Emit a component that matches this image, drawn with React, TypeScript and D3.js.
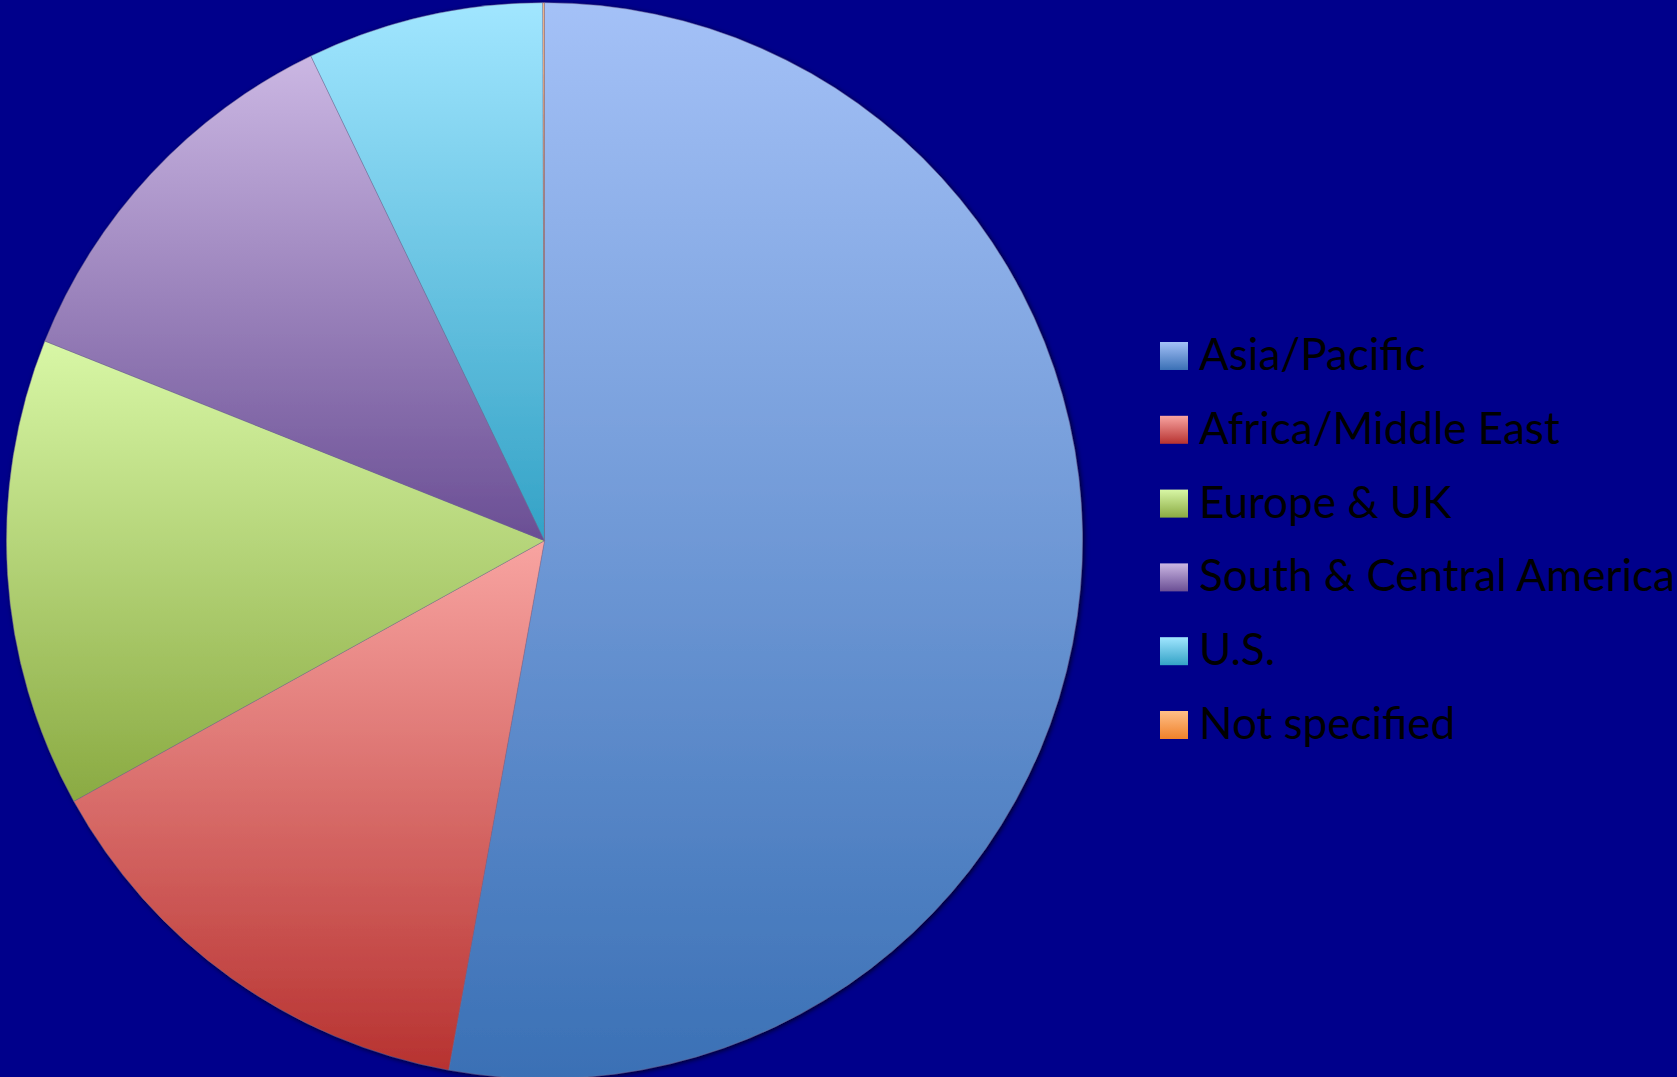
import React from "react";
import * as d3 from "d3";

const categories = ["Asia/Pacific", "Africa/Middle East", "Europe & UK", "South & Central America", "U.S.", "Not specified"];
const values = [52.85, 14.1, 14.1, 11.8, 7.1, 0.05];
const topColors = ["#A4C1F7", "#F8A4A1", "#D8F7A6", "#CBB7E3", "#A1E6FF", "#FFBF88"];
const bottomColors = ["#3A70B5", "#B73230", "#8AAA42", "#6A4E94", "#33A2C6", "#F0822A"];

const W = 1677;
const H = 1077;
const cx = 544.5;
const cy = 540.7;
const R = 538;

export default function App() {
  const pie = d3.pie<number>().sort(null).value((d) => d);
  const arcs = pie(values);
  const arc = d3.arc<d3.PieArcDatum<number>>().innerRadius(0).outerRadius(R);

  const legendX = 1160;
  const legendY0 = 370;
  const legendStep = 73.8;
  const sw = 28;

  return (
    <svg
      width={W}
      height={H}
      style={{ position: "absolute", left: 0, top: 0, display: "block" }}
    >
      <defs>
        {categories.map((c, i) => (
          <linearGradient key={c} id={`g${i}`} x1="0" y1="0" x2="0" y2="1">
            <stop offset="0" stopColor={topColors[i]} />
            <stop offset="1" stopColor={bottomColors[i]} />
          </linearGradient>
        ))}
        <filter id="shadow" x="-10%" y="-10%" width="120%" height="120%">
          <feDropShadow dx="1.5" dy="1.5" stdDeviation="2.5" floodColor="#000" floodOpacity="0.7" />
        </filter>
      </defs>
      <rect x={0} y={0} width={W} height={H} fill="#00008B" />
      <g transform={`translate(${cx},${cy})`} filter="url(#shadow)">
        {arcs.map((a, i) => (
          <path
            key={categories[i]}
            d={arc(a) || ""}
            fill={`url(#g${i})`}
            stroke="rgba(120,110,150,0.55)"
            strokeWidth={0.8}
          />
        ))}
      </g>
      <g fontFamily="Lato, 'Noto Sans', sans-serif" fontSize={44} fill="#000">
        {categories.map((c, i) => {
          const by = legendY0 + i * legendStep;
          return (
            <g key={c}>
              <rect x={legendX} y={by - sw} width={sw} height={sw} fill={`url(#g${i})`} />
              <text x={1199} y={by}>{c}</text>
            </g>
          );
        })}
      </g>
    </svg>
  );
}
